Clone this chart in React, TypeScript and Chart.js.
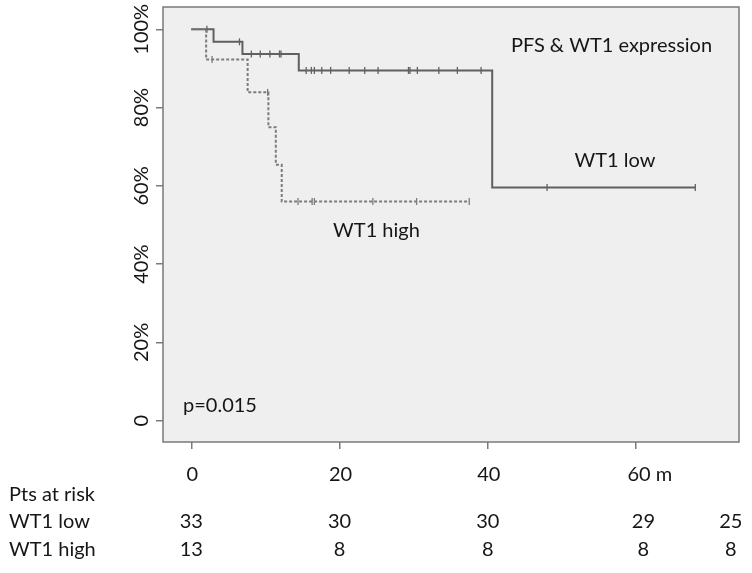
import React, { useEffect, useRef } from "react";
import { Chart, registerables } from "chart.js";

Chart.register(...registerables);

// Kaplan-Meier steps (months, % progression-free)
const lowTimes = [0, 3.0, 6.9, 14.5, 40.6, 68.0];
const lowSurv = [100, 96.8, 93.7, 89.5, 59.6, 59.6];
const lowCensored = [2.1, 6.5, 8.1, 9.3, 10.6, 11.9, 12.1, 15.5, 16.2, 16.6, 17.6, 18.8, 21.3, 23.4, 25.2, 29.3, 29.5, 30.5, 33.4, 35.9, 39.1, 48.0, 68.0];

const highTimes = [0, 2.0, 7.6, 10.4, 11.4, 12.2, 37.5];
const highSurv = [100, 92.3, 83.9, 75.0, 65.4, 56.0, 56.0];
const highCensored = [2.8, 10.3, 14.4, 16.3, 16.6, 24.5, 30.4, 37.5];

const xTicks = [0, 20, 40, 60];
const xTickLabels = ["0", "20", "40", "60"];
const xUnit = " m";
const yTicks = [0, 20, 40, 60, 80, 100];
const yTickLabels = ["0", "20%", "40%", "60%", "80%", "100%"];

const riskTitle = "Pts at risk";
const riskGroups = ["WT1 low", "WT1 high"];
const riskTimes = [0, 20, 40, 61, 72.8];
const riskLow = [33, 30, 30, 29, 25];
const riskHigh = [13, 8, 8, 8, 8];

const chartTitle = "PFS & WT1 expression";
const pValue = "p=0.015";

const LOW_COLOR = "#606060";
const HIGH_COLOR = "#7c7c7c";
const FONT = "Lato, 'Open Sans', sans-serif";
const TEXT = "#161616";

function survivalAt(times: number[], surv: number[], t: number): number {
  let v = surv[0];
  for (let i = 0; i < times.length; i++) if (times[i] <= t) v = surv[i];
  return v;
}

const plotPlugin = {
  id: "kmDecor",
  beforeDatasetsDraw(chart: any) {
    const { ctx, chartArea: a } = chart;
    ctx.save();
    ctx.fillStyle = "#efefef";
    ctx.fillRect(a.left, a.top, a.right - a.left, a.bottom - a.top);
    ctx.restore();
  },
  afterDatasetsDraw(chart: any) {
    const { ctx, chartArea: a, scales } = chart;
    const xs = scales.x;
    const ys = scales.y;
    ctx.save();
    ctx.strokeStyle = "#7a7a7a";
    ctx.lineWidth = 1.5;
    ctx.strokeRect(a.left, a.top, a.right - a.left, a.bottom - a.top);

    ctx.fillStyle = TEXT;
    ctx.font = `20px ${FONT}`;
    ctx.textBaseline = "alphabetic";

    // y tick labels (rotated)
    yTicks.forEach((v, i) => {
      const py = ys.getPixelForValue(v);
      ctx.save();
      ctx.translate(147.5, py);
      ctx.rotate(-Math.PI / 2);
      ctx.textAlign = "center";
      ctx.fillText(yTickLabels[i], 0, 0);
      ctx.restore();
    });

    // x tick labels
    xTicks.forEach((v, i) => {
      const px = xs.getPixelForValue(v);
      const lbl = xTickLabels[i];
      if (i === xTicks.length - 1) {
        const w = ctx.measureText(lbl).width;
        ctx.textAlign = "left";
        ctx.fillText(lbl + xUnit, px - w / 2 + 3, 480.5);
      } else {
        ctx.textAlign = "center";
        ctx.fillText(lbl, px + 1, 480.5);
      }
    });

    // annotations
    ctx.textAlign = "center";
    ctx.fillText(chartTitle, 611.5, 52);
    ctx.fillText(riskGroups[0], 615, 166.5);
    ctx.fillText(riskGroups[1], 376.5, 236.5);
    ctx.textAlign = "left";
    ctx.fillText(pValue, 183, 411.5);

    // at-risk table
    ctx.textAlign = "left";
    ctx.fillText(riskTitle, 9, 501.3);
    ctx.fillText(riskGroups[0], 9, 528);
    ctx.fillText(riskGroups[1], 9, 556.3);
    ctx.textAlign = "center";
    riskTimes.forEach((t, i) => {
      const px = xs.getPixelForValue(t);
      ctx.fillText(String(riskLow[i]), px, 528);
      ctx.fillText(String(riskHigh[i]), px, 556.3);
    });
    ctx.restore();
  },
};

export default function App() {
  const ref = useRef<HTMLCanvasElement | null>(null);

  useEffect(() => {
    if (!ref.current) return;
    const lowLine = lowTimes.map((t, i) => ({ x: t, y: lowSurv[i] }));
    const highLine = highTimes.map((t, i) => ({ x: t, y: highSurv[i] }));
    const lowMarks = lowCensored.map((t) => ({ x: t, y: survivalAt(lowTimes, lowSurv, t) }));
    const highMarks = highCensored.map((t) => ({ x: t, y: survivalAt(highTimes, highSurv, t) }));

    const tickGrid = (len: number) => ({
      display: true,
      drawOnChartArea: false,
      drawTicks: true,
      tickLength: len,
      color: "#7a7a7a",
      lineWidth: 1.5,
    });

    const chart = new Chart(ref.current, {
      type: "line",
      data: {
        datasets: [
          {
            label: "WT1 high",
            data: highLine,
            stepped: true,
            borderColor: HIGH_COLOR,
            borderWidth: 2,
            borderDash: [3, 2],
            pointRadius: 0,
            fill: false,
          },
          {
            label: "WT1 low",
            data: lowLine,
            stepped: true,
            borderColor: LOW_COLOR,
            borderWidth: 2,
            pointRadius: 0,
            fill: false,
          },
          {
            type: "scatter",
            label: "WT1 high censored",
            data: highMarks,
            pointStyle: "line",
            rotation: 90,
            pointRadius: 3.5,
            borderColor: HIGH_COLOR,
            borderWidth: 1.3,
            showLine: false,
          },
          {
            type: "scatter",
            label: "WT1 low censored",
            data: lowMarks,
            pointStyle: "line",
            rotation: 90,
            pointRadius: 3.5,
            borderColor: LOW_COLOR,
            borderWidth: 1.3,
            showLine: false,
          },
        ] as any,
      },
      options: {
        responsive: false,
        animation: false,
        layout: { padding: { left: 156, top: 7, right: 13, bottom: 124 } },
        plugins: {
          legend: { display: false },
          tooltip: { enabled: false },
        },
        scales: {
          x: {
            type: "linear",
            min: -3.82,
            max: 73.9,
            afterBuildTicks: (s: any) => {
              s.ticks = xTicks.map((v) => ({ value: v }));
            },
            ticks: { display: false },
            grid: tickGrid(7),
            border: { display: false },
          },
          y: {
            type: "linear",
            min: -5.44,
            max: 105.7,
            afterBuildTicks: (s: any) => {
              s.ticks = yTicks.map((v) => ({ value: v }));
            },
            ticks: { display: false },
            grid: tickGrid(7),
            border: { display: false },
          },
        },
      } as any,
      plugins: [plotPlugin],
    });
    return () => chart.destroy();
  }, []);

  return (
    <div style={{ position: "absolute", left: 0, top: 0, width: 752, height: 573 }}>
      <canvas ref={ref} width={752} height={573} />
    </div>
  );
}
